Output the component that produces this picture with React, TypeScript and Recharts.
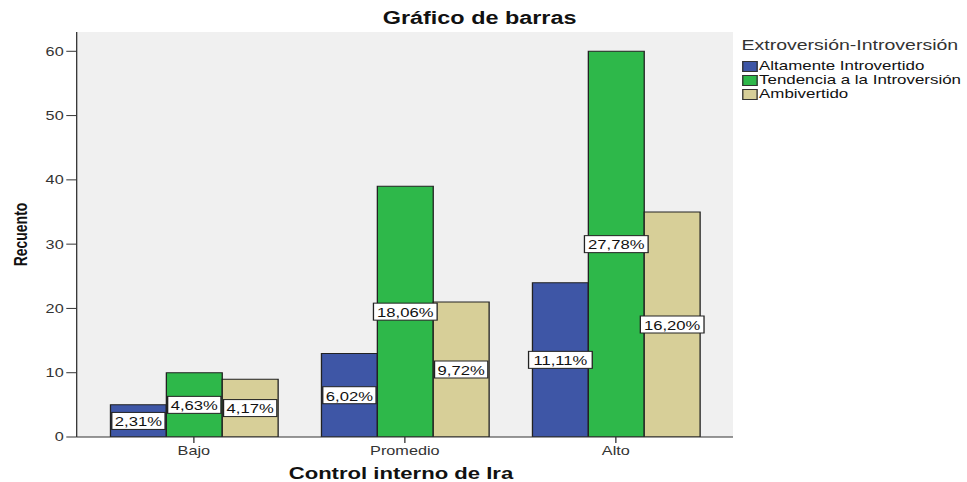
import React from 'react';
import { BarChart, Bar, XAxis, YAxis, CartesianGrid, LabelList } from 'recharts';

const categories = ['Bajo', 'Promedio', 'Alto'];
const seriesNames = ['Altamente Introvertido', 'Tendencia a la Introversión', 'Ambivertido'];
const altamente = [5, 13, 24];
const tendencia = [10, 39, 60];
const ambivertido = [9, 21, 35];
const pctAltamente = ['2,31%', '6,02%', '11,11%'];
const pctTendencia = ['4,63%', '18,06%', '27,78%'];
const pctAmbivertido = ['4,17%', '9,72%', '16,20%'];
const yTicks = [0, 10, 20, 30, 40, 50, 60];
const colors = ['#3E56A6', '#2EB84A', '#D7CF98'];

const data = categories.map((c, i) => ({
  cat: c,
  a: altamente[i],
  t: tendencia[i],
  m: ambivertido[i],
  pa: pctAltamente[i],
  pt: pctTendencia[i],
  pm: pctAmbivertido[i],
}));

const SCALE = 967 / 744;
const FONT = "'Liberation Sans', Arial, Helvetica, sans-serif";

const BoxLabel = (props: any) => {
  const { x, y, width, height, value } = props;
  const cx = Number(x) + Number(width) / 2;
  const cy = Number(y) + Number(height) / 2;
  const s = String(value);
  const w = s.length * 8 + 1;
  const h = 17;
  return (
    <g>
      <rect x={cx - w / 2} y={cy - h / 2} width={w} height={h} fill="#ffffff" stroke="#222" strokeWidth={1} />
      <text x={cx} y={cy + 1} textAnchor="middle" dominantBaseline="central" fontSize={12.8} fill="#111" fontFamily={FONT}>
        {s}
      </text>
    </g>
  );
};

const YLabel = (props: any) => {
  const vb = props.viewBox || {};
  const x = 15.5;
  const y = (vb.y || 0) + (vb.height || 0) / 2;
  return (
    <text x={x} y={y} transform={`rotate(-90, ${x}, ${y})`} textAnchor="middle" dominantBaseline="central" fontSize={14} fontWeight="bold" fill="#111" fontFamily={FONT}>
      Recuento
    </text>
  );
};

const XLabel = (props: any) => {
  const vb = props.viewBox || {};
  const x = (vb.x || 0) + (vb.width || 0) / 2 - 3;
  const y = (vb.y || 0) + 42;
  return (
    <text x={x} y={y} textAnchor="middle" fontSize={17} fontWeight="bold" fill="#111" fontFamily={FONT}>
      Control interno de Ira
    </text>
  );
};

const LegendBox = () => (
  <div style={{ position: 'absolute', left: 570.5, top: 36, width: 174, fontFamily: FONT }}>
    <div style={{ fontSize: 15, lineHeight: '18px', color: '#333', whiteSpace: 'nowrap', marginBottom: 5 }}>
      Extroversión-Introversión
    </div>
    {seriesNames.map((n, i) => (
      <div key={n} style={{ display: 'flex', alignItems: 'center', height: 14, fontSize: 13, lineHeight: '14px', color: '#111', whiteSpace: 'nowrap' }}>
        <span style={{ display: 'inline-block', width: 10, height: 9, background: colors[i], border: '1px solid #333', marginRight: 1.5 }} />
        <span>{n}</span>
      </div>
    ))}
  </div>
);

export default function App() {
  return (
    <div style={{ position: 'absolute', left: 0, top: 0, width: 967, height: 482, background: '#fff', overflow: 'hidden' }}>
      <div style={{ position: 'absolute', left: 0, top: 0, width: 744, height: 482, transform: `scaleX(${SCALE})`, transformOrigin: '0 0', fontFamily: FONT }}>
        <div style={{ position: 'absolute', left: 0, top: 8, width: 738, textAlign: 'center', fontSize: 18, fontWeight: 'bold', lineHeight: '20px', color: '#111' }}>
          Gráfico de barras
        </div>
        <BarChart
          width={744}
          height={482}
          data={data}
          margin={{ top: 32, right: 180, left: 0, bottom: 0 }}
          barGap={0}
          style={{ fontFamily: FONT }}
        >
          <CartesianGrid fill="#F0F0F0" horizontal={false} vertical={false} stroke="none" />
          <XAxis
            dataKey="cat"
            height={45}
            padding={{ left: 9, right: 9 }}
            tickSize={6}
            tickMargin={3}
            axisLine={{ stroke: '#333' }}
            tickLine={{ stroke: '#333' }}
            tick={{ fontSize: 12.5, fill: '#333' }}
            label={<XLabel />}
          />
          <XAxis xAxisId="top" dataKey="cat" orientation="top" height={0} tick={false} tickLine={false} axisLine={{ stroke: '#666' }} />
          <YAxis
            width={59}
            domain={[0, 63]}
            ticks={yTicks}
            tickSize={8}
            tickMargin={2}
            interval={0}
            allowDataOverflow
            axisLine={{ stroke: '#333' }}
            tickLine={{ stroke: '#333' }}
            tick={{ fontSize: 12.5, fill: '#333' }}
            label={<YLabel />}
          />
          <YAxis yAxisId="r" orientation="right" width={0} domain={[0, 63]} tick={false} tickLine={false} axisLine={{ stroke: '#666' }} />
          <Bar dataKey="a" name={seriesNames[0]} fill={colors[0]} stroke="#222" strokeWidth={1} barSize={43} isAnimationActive={false}>
            <LabelList dataKey="pa" content={<BoxLabel />} />
          </Bar>
          <Bar dataKey="t" name={seriesNames[1]} fill={colors[1]} stroke="#222" strokeWidth={1} barSize={43} isAnimationActive={false}>
            <LabelList dataKey="pt" content={<BoxLabel />} />
          </Bar>
          <Bar dataKey="m" name={seriesNames[2]} fill={colors[2]} stroke="#222" strokeWidth={1} barSize={43} isAnimationActive={false}>
            <LabelList dataKey="pm" content={<BoxLabel />} />
          </Bar>
        </BarChart>
        <LegendBox />
      </div>
    </div>
  );
}
